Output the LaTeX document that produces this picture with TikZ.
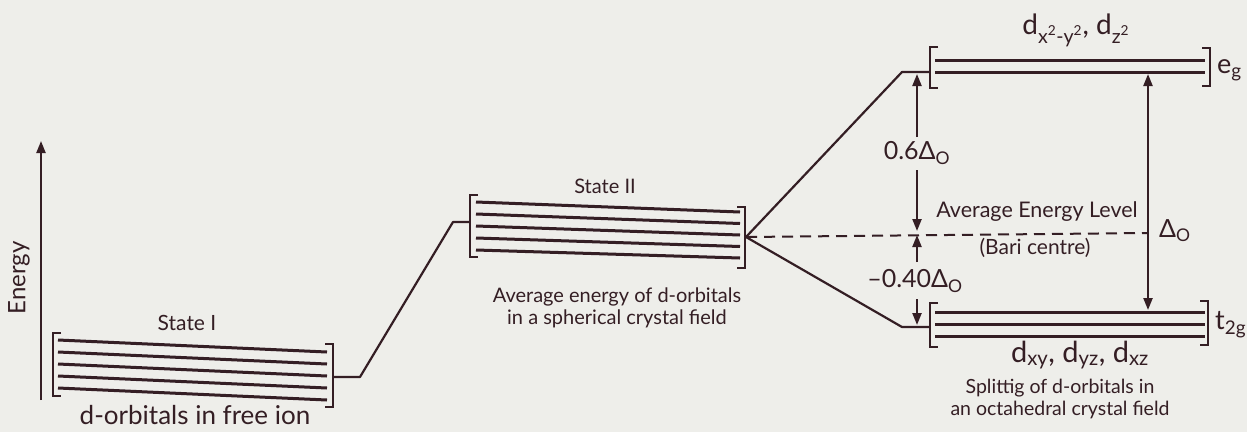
\documentclass[tikz,border=0pt]{standalone}
\usepackage{fontspec}
\setmainfont{Lato}
\usetikzlibrary{arrows.meta}
\definecolor{ink}{RGB}{52,30,36}
\definecolor{paper}{RGB}{238,238,234}
\newcommand{\fs}[1]{\fontsize{#1}{#1}\selectfont}
\begin{document}
\begin{tikzpicture}[x=1pt,y=-1pt,
  orb/.style={draw=ink,line width=3pt},
  brk/.style={draw=ink,line width=2.6pt},
  conn/.style={draw=ink,line width=2.2pt,line join=round},
  dashline/.style={draw=ink,line width=2pt,dash pattern=on 11pt off 7pt},
  arr/.style={draw=ink,line width=2.2pt,-{Triangle[length=12pt,width=9pt]}},
  darr/.style={draw=ink,line width=2.2pt,{Triangle[length=12pt,width=9pt]}-{Triangle[length=12pt,width=9pt]}},
  lbl/.style={text=ink,inner sep=0pt,align=center}]
\fill[paper] (0,0) rectangle (1247,432);
\useasboundingbox (0,0) rectangle (1247,432);

% Energy axis
\coordinate (E0) at (41,400);
\coordinate (E1) at (41,141);
\draw[arr] (E0) -- (E1);
\node[lbl,rotate=90,font=\fs{24}] (energy) at (19,278) {Energy};

% State I
\foreach \i in {0,...,4} \draw[orb] (58,{340+12*\i}) -- (327,{352+12*\i});
\draw[brk] (61,333) -- (53,333) -- (53,396) -- (61,396);
\draw[brk] (325,344) -- (333,344) -- (333,407) -- (325,407);
\node[lbl,font=\fs{21}] (s1lab) at (187,323) {State I};
\node[lbl,font=\fs{26}] (s1cap) at (195,415) {d-orbitals in free ion};

% connector I -> II
\coordinate (s1r) at (334,377);
\coordinate (k1) at (360,377);
\coordinate (k2) at (453,222);
\coordinate (s2l) at (470,222);
\draw[conn] (s1r) -- (k1) -- (k2) -- (s2l);

% State II
\foreach \i in {0,...,4} \draw[orb] (476,{202+12*\i}) -- (740,{212+11.5*\i});
\draw[brk] (478,195) -- (470,195) -- (470,257) -- (478,257);
\draw[brk] (737,207) -- (745,207) -- (745,268) -- (737,268);
\node[lbl,font=\fs{20}] (s2lab) at (605,186) {State II};
\node[lbl,font=\fs{20}] (s2cap) at (617,308) {Average energy of d-orbitals\\[2pt]in a spherical crystal field};
\coordinate (s2r) at (746,237);

% eg
\draw[orb] (935,60) -- (1205,60);
\draw[orb] (935,72) -- (1205,72);
\draw[brk] (938,47) -- (930,47) -- (930,88) -- (938,88);
\draw[brk] (1202,48) -- (1210,48) -- (1210,86) -- (1202,86);
\coordinate (egk) at (902,72);
\coordinate (egl) at (929,72);
\draw[conn] (s2r) -- (egk) -- (egl);
\node[lbl,font=\fs{28}] (eglab) at (1076,30) {d\textsubscript{x\textsuperscript{2}-y\textsuperscript{2}}, d\textsubscript{z\textsuperscript{2}}};
\node[lbl,font=\fs{27},anchor=west] (eg) at (1217,70) {e\textsubscript{g}};

% t2g
\draw[orb] (935,312) -- (1205,312);
\draw[orb] (935,324) -- (1205,324);
\draw[orb] (935,336) -- (1205,336);
\draw[brk] (938,303) -- (930,303) -- (930,347) -- (938,347);
\draw[brk] (1200,301) -- (1208,301) -- (1208,345) -- (1200,345);
\coordinate (t2k) at (902,327);
\coordinate (t2l) at (929,327);
\draw[conn] (s2r) -- (t2k) -- (t2l);
\node[lbl,font=\fs{27},anchor=west] (t2g) at (1215,325) {t\textsubscript{2g}};
\node[lbl,font=\fs{29}] (t2lab) at (1080,355) {d\textsubscript{xy}, d\textsubscript{yz}, d\textsubscript{xz}};
\node[lbl,font=\fs{19.5}] (t2cap) at (1060,399) {Splittig of d-orbitals in\\[2pt]an octahedral crystal field};

% barycentre
\coordinate (bc) at (1148,233);
\draw[dashline] (s2r) -- (bc);
\node[lbl,font=\fs{21.5}] (avg) at (1037,212) {Average Energy Level};
\node[lbl,font=\fs{21}] (bari) at (1035,248) {(Bari centre)};

% left arrows
\node[lbl,font=\fs{25}] (p6) at (917,153) {0.6Δ\textsubscript{O}};
\node[lbl,font=\fs{25}] (m4) at (915,281) {–0.40Δ\textsubscript{O}};
\coordinate (a1) at (917,74);
\coordinate (a2) at (917,231);
\coordinate (a3) at (917,235);
\coordinate (a4) at (917,325);
\coordinate (b1) at (917,137);
\coordinate (b2) at (917,170);
\coordinate (b3) at (917,262);
\coordinate (b4) at (917,299);
\draw[arr] (b1) -- (a1);
\draw[arr] (b2) -- (a2);
\draw[arr] (b3) -- (a3);
\draw[arr] (b4) -- (a4);

% right Delta arrow
\coordinate (r1) at (1148,74);
\coordinate (r2) at (1148,310);
\draw[darr] (r2) -- (r1);
\node[lbl,font=\fs{25},anchor=west] (dO) at (1159,231) {Δ\textsubscript{O}};
\end{tikzpicture}
\end{document}
